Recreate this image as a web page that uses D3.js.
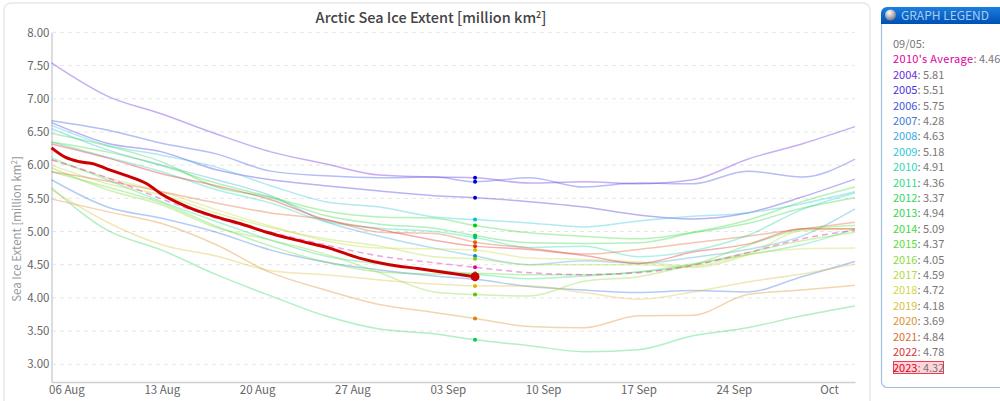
<!DOCTYPE html>
<html>
<head>
<meta charset="utf-8">
<script src="https://cdn.jsdelivr.net/npm/d3@7"></script>
<style>
  html, body { margin: 0; padding: 0; background: #fff; overflow: hidden; }
  text { font-family: "Noto Sans CJK JP", "Noto Sans", sans-serif; }
</style>
</head>
<body>
<svg id="chart" width="1000" height="401"></svg>
<script>
var days = [-0.1, 4, 8, 12, 16, 20, 24, 28, 31, 35, 39, 43, 47, 51, 55, 58.9];
//2023 stops at 09/05 and has its own days, it is the thick line so read closer
var days2023 = [-0.1, 0.9, 2, 3, 4, 5.3, 6.9, 8, 10, 12, 13.9, 15.7, 17.9, 20.3, 22.5, 24.7, 26.9, 31];

var average = [6.08, 5.81, 5.49, 5.20, 4.99, 4.80, 4.63, 4.53, 4.46, 4.38, 4.35, 4.38, 4.49, 4.68, 4.89, 5.02];
var y2004 = [7.54, 7.04, 6.77, 6.47, 6.20, 6.02, 5.85, 5.82, 5.81, 5.73, 5.75, 5.72, 5.78, 6.09, 6.32, 6.58];
var y2005 = [6.64, 6.33, 6.20, 5.93, 5.78, 5.69, 5.61, 5.54, 5.51, 5.45, 5.37, 5.25, 5.19, 5.28, 5.52, 5.79];
var y2006 = [6.67, 6.53, 6.33, 6.17, 5.91, 5.84, 5.81, 5.82, 5.75, 5.81, 5.67, 5.73, 5.72, 5.91, 5.82, 6.09];
var y2007 = [5.78, 5.37, 5.20, 4.99, 4.72, 4.54, 4.42, 4.33, 4.28, 4.17, 4.12, 4.08, 4.11, 4.09, 4.32, 4.55];
var y2008 = [6.55, 6.23, 6.00, 5.78, 5.54, 5.15, 4.93, 4.75, 4.63, 4.50, 4.56, 4.52, 4.61, 4.73, 4.93, 5.34];
var y2009 = [6.60, 6.30, 6.15, 5.97, 5.69, 5.45, 5.37, 5.22, 5.18, 5.13, 5.07, 5.16, 5.23, 5.28, 5.42, 5.60];
var y2010 = [6.35, 6.12, 5.90, 5.63, 5.43, 5.15, 5.05, 5.00, 4.91, 4.76, 4.78, 4.62, 4.71, 4.94, 5.33, 5.58];
var y2011 = [6.11, 5.78, 5.45, 5.15, 4.87, 4.63, 4.51, 4.42, 4.36, 4.29, 4.33, 4.39, 4.51, 4.65, 4.80, 5.04];
var y2012 = [5.66, 5.02, 4.72, 4.35, 4.03, 3.73, 3.53, 3.46, 3.37, 3.28, 3.19, 3.22, 3.43, 3.55, 3.73, 3.88];
var y2013 = [6.48, 6.29, 6.05, 5.67, 5.51, 5.24, 5.11, 5.05, 4.94, 4.83, 4.82, 4.83, 4.98, 5.12, 5.35, 5.51];
var y2014 = [6.35, 6.20, 5.99, 5.73, 5.52, 5.31, 5.22, 5.20, 5.09, 4.98, 4.93, 4.89, 4.99, 5.17, 5.45, 5.67];
var y2015 = [5.90, 5.67, 5.43, 5.08, 4.78, 4.54, 4.39, 4.36, 4.37, 4.35, 4.35, 4.39, 4.50, 4.79, 5.03, 5.09];
var y2016 = [5.96, 5.63, 5.40, 5.06, 4.87, 4.66, 4.38, 4.09, 4.05, 4.03, 4.25, 4.32, 4.50, 4.68, 4.86, 4.99];
var y2017 = [6.00, 5.72, 5.55, 5.28, 5.06, 4.89, 4.78, 4.62, 4.59, 4.50, 4.50, 4.50, 4.46, 4.65, 5.01, 5.04];
var y2018 = [6.08, 5.81, 5.60, 5.33, 5.08, 4.86, 4.75, 4.74, 4.72, 4.60, 4.58, 4.54, 4.48, 4.65, 4.74, 4.75];
var y2019 = [5.63, 5.14, 4.80, 4.63, 4.41, 4.35, 4.27, 4.21, 4.18, 4.18, 4.08, 3.98, 4.09, 4.24, 4.36, 4.51];
var y2020 = [5.49, 5.30, 5.12, 4.80, 4.38, 4.12, 3.90, 3.78, 3.69, 3.57, 3.55, 3.73, 3.74, 4.05, 4.12, 4.19];
var y2021 = [5.90, 5.76, 5.60, 5.43, 5.28, 5.18, 4.99, 4.97, 4.84, 4.75, 4.66, 4.73, 4.83, 4.93, 5.04, 5.14];
var y2022 = [6.32, 6.11, 5.87, 5.69, 5.48, 5.18, 5.03, 4.87, 4.78, 4.73, 4.64, 4.52, 4.69, 4.81, 5.04, 5.04];
var y2023 = [6.26, 6.12, 6.05, 6.02, 5.94, 5.85, 5.72, 5.56, 5.36, 5.22, 5.11, 4.99, 4.87, 4.75, 4.60, 4.50, 4.44, 4.32];

var years = ["2004","2005","2006","2007","2008","2009","2010","2011","2012","2013","2014","2015","2016","2017","2018","2019","2020","2021","2022"];
var yearValues = [y2004,y2005,y2006,y2007,y2008,y2009,y2010,y2011,y2012,y2013,y2014,y2015,y2016,y2017,y2018,y2019,y2020,y2021,y2022];
//line and legend colour, the dots are a bit stronger
var yearColors = ["#6a2be0","#4a35dc","#3f55e0","#3a7ae0","#3fa8e0","#30c8d8","#30d8b4","#30dc88","#2fd860","#34d850","#3cdc40","#60dc40","#8cd840","#b0dc40","#d0d848","#dcc040","#dc9030","#dc6c30","#dc3030"];
var dotColors = ["#0000d0","#0000d0","#0000d8","#1060e0","#1080e0","#00c0d0","#00c890","#00cc50","#00cc50","#00c840","#00cc00","#40c800","#60c000","#80cc00","#c0c000","#e0b000","#e08000","#e06000","#e03010"];
var legendNumbers = ["5.81","5.51","5.75","4.28","4.63","5.18","4.91","4.36","3.37","4.94","5.09","4.37","4.05","4.59","4.72","4.18","3.69","4.84","4.78"];

var yTicks = [3, 3.5, 4, 4.5, 5, 5.5, 6, 6.5, 7, 7.5, 8];
var xTickDays = [1, 8, 15, 22, 29, 36, 43, 50, 57];
var xTickLabels = ["06 Aug","13 Aug","20 Aug","27 Aug","03 Sep","10 Sep","17 Sep","24 Sep","Oct"];
var markerDay = 31;

var svg = d3.select("#chart");

//card behind the chart
svg.append("rect").attr("x", 4).attr("y", 3).attr("width", 866).attr("height", 420).attr("rx", 7)
   .attr("fill", "#fff").attr("stroke", "#e8e8e8").attr("stroke-width", 1.5);

var x = d3.scaleLinear().domain([-0.1, 58.9]).range([51.5, 855]);
var y = d3.scaleLinear().domain([2.733, 8]).range([382, 32.4]);

//grid
svg.append("g").selectAll("line").data(yTicks).enter().append("line")
   .attr("x1", 52).attr("x2", 855)
   .attr("y1", function(d) { return y(d); }).attr("y2", function(d) { return y(d); })
   .attr("stroke", "#e6e6e6").attr("stroke-dasharray", "4,4");

//axes
var yAxis = svg.append("g").attr("transform", "translate(51.5,0)")
   .call(d3.axisLeft(y).tickValues(yTicks).tickSize(0).tickPadding(2).tickFormat(d3.format(".2f")));
var xAxis = svg.append("g").attr("transform", "translate(0,382)")
   .call(d3.axisBottom(x).tickValues(xTickDays).tickSize(0).tickPadding(4)
   .tickFormat(function(d, i) { return xTickLabels[i]; }));
[yAxis, xAxis].forEach(function(a) {
  a.select(".domain").attr("stroke", "#d0d0d0").attr("stroke-width", 1.5);
  a.selectAll("text").attr("fill", "#666").style("font-size", "11.5px")
   .style("font-family", '"Noto Sans CJK JP", sans-serif');
});

var line = d3.line()
   .x(function(d) { return x(d[0]); })
   .y(function(d) { return y(d[1]); })
   .curve(d3.curveMonotoneX);

var plot = svg.append("g");
years.forEach(function(yr, i) {
  plot.append("path").datum(d3.zip(days, yearValues[i]))
      .attr("d", line).attr("fill", "none")
      .attr("stroke", yearColors[i]).attr("stroke-opacity", 0.38).attr("stroke-width", 1.5);
});
plot.append("path").datum(d3.zip(days, average))
    .attr("d", line).attr("fill", "none")
    .attr("stroke", "#e030b0").attr("stroke-opacity", 0.45).attr("stroke-width", 1.5).attr("stroke-dasharray", "6,4");
plot.append("path").datum(d3.zip(days2023, y2023))
    .attr("d", line).attr("fill", "none").attr("stroke", "#cc0000").attr("stroke-width", 3);

//dots on the selected date, values come from the same arrays at markerDay
var dotIdx = days.indexOf(markerDay);
years.forEach(function(yr, i) {
  plot.append("circle").attr("cx", x(markerDay)).attr("cy", y(yearValues[i][dotIdx]))
      .attr("r", 2).attr("fill", dotColors[i]);
});
plot.append("circle").attr("cx", x(markerDay)).attr("cy", y(average[dotIdx])).attr("r", 2).attr("fill", "#e000a0");
plot.append("circle").attr("cx", x(markerDay)).attr("cy", y(y2023[y2023.length - 1])).attr("r", 4.5).attr("fill", "#cc0000");

//titles
var title = svg.append("text").attr("x", 431).attr("y", 23).attr("text-anchor", "middle")
   .attr("fill", "#444").style("font-size", "14.5px").style("font-weight", 500);
title.append("tspan").text("Arctic Sea Ice Extent [million km");
title.append("tspan").text("2").attr("dy", -5).style("font-size", "9px");
title.append("tspan").text("]").attr("dy", 5);

var yTitle = svg.append("text").attr("transform", "translate(21,229) rotate(-90)").attr("text-anchor", "middle")
   .attr("fill", "#999").style("font-size", "11.5px");
yTitle.append("tspan").text("Sea Ice Extent [million km");
yTitle.append("tspan").text("2").attr("dy", -4).style("font-size", "8px");
yTitle.append("tspan").text("]").attr("dy", 4);

//legend box
var lg = svg.append("g");
lg.append("path").attr("d", "M881.5,20V381.5a6,6 0 0 0 6,6H1010V20Z")
  .attr("fill", "#fff").attr("stroke", "#9fc0e0").attr("stroke-width", 1.2);
var defs = svg.append("defs");
var grad = defs.append("linearGradient").attr("id", "legendHead")
  .attr("x1", 0).attr("y1", 0).attr("x2", 0).attr("y2", 1);
grad.append("stop").attr("offset", 0).attr("stop-color", "#1a7fe0");
grad.append("stop").attr("offset", 1).attr("stop-color", "#0050b4");
var ball = defs.append("radialGradient").attr("id", "legendBall")
  .attr("cx", 0.4).attr("cy", 0.3).attr("r", 0.8);
ball.append("stop").attr("offset", 0).attr("stop-color", "#fff");
ball.append("stop").attr("offset", 1).attr("stop-color", "#667");
lg.append("path").attr("d", "M881,24V13a6,6 0 0 1 6,-6H1010V24Z").attr("fill", "url(#legendHead)");
lg.append("circle").attr("cx", 890.5).attr("cy", 15).attr("r", 5.5).attr("fill", "url(#legendBall)");
lg.append("text").attr("x", 901).attr("y", 20).attr("fill", "#a9ccf2").style("font-size", "12px").text("GRAPH LEGEND");

var rowY = d3.scaleLinear().domain([0, 21]).range([48, 371.5]);
function legendRow(i, name, color, value) {
  var t = lg.append("text").attr("x", 893).attr("y", rowY(i)).style("font-size", "11px").attr("fill", "#777");
  t.append("tspan").attr("fill", color).text(name);
  t.append("tspan").text(": " + value);
  return t;
}
lg.append("text").attr("x", 893).attr("y", rowY(0)).style("font-size", "11px").attr("fill", "#777").text("09/05:");
legendRow(1, "2010's Average", "#e000a0", "4.46").select("tspan").style("letter-spacing", "0.35px");
years.forEach(function(yr, i) { legendRow(i + 2, yr, yearColors[i], legendNumbers[i]); });
lg.append("rect").attr("x", 893.5).attr("y", 361.5).attr("width", 50).attr("height", 12)
  .attr("fill", "#ffd4da").attr("stroke", "#e84050");
legendRow(21, "2023", "#dd0020", "4.32");
</script>
</body>
</html>
